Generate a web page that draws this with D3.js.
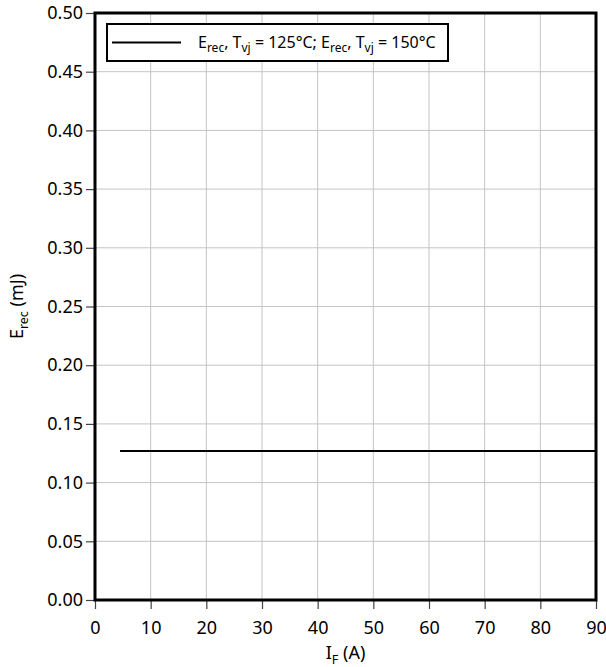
<!DOCTYPE html>
<html>
<head>
<meta charset="utf-8">
<script src="https://cdn.jsdelivr.net/npm/d3@7"></script>
<style>
  body { margin: 0; background: #fff; }
  text { font-family: "Noto Sans", sans-serif; }
</style>
</head>
<body>
<svg id="chart"></svg>
<script>
// curve data
const currentA = [4.5, 90];
const energyMJ = [0.127, 0.127];
const xTicks = [0, 10, 20, 30, 40, 50, 60, 70, 80, 90];
const yTicks = [0, 0.05, 0.1, 0.15, 0.2, 0.25, 0.3, 0.35, 0.4, 0.45, 0.5];

const width = 606, height = 667;
const margin = { top: 13, right: 10, bottom: 67, left: 95 };
const w = width - margin.left - margin.right;
const h = height - margin.top - margin.bottom;

const svg = d3.select("#chart").attr("width", width).attr("height", height);
const g = svg.append("g").attr("transform", `translate(${margin.left},${margin.top})`);

const x = d3.scaleLinear().domain([0, 90]).range([0, w]);
const y = d3.scaleLinear().domain([0, 0.5]).range([h, 0]);

// grid
g.append("g").selectAll("line").data(xTicks).join("line")
  .attr("x1", d => x(d)).attr("x2", d => x(d)).attr("y1", 0).attr("y2", h)
  .attr("stroke", "#c4c4c4").attr("stroke-width", 1);
g.append("g").selectAll("line").data(yTicks).join("line")
  .attr("y1", d => y(d)).attr("y2", d => y(d)).attr("x1", 0).attr("x2", w)
  .attr("stroke", "#c4c4c4").attr("stroke-width", 1);

// axes
const xAxis = g.append("g").attr("transform", `translate(0,${h})`)
  .call(d3.axisBottom(x).tickValues(xTicks).tickSize(9).tickPadding(12).tickFormat(d3.format("d")));
const yAxis = g.append("g")
  .call(d3.axisLeft(y).tickValues(yTicks).tickSize(9).tickPadding(3).tickFormat(d3.format(".2f")));
[xAxis, yAxis].forEach(a => {
  a.select(".domain").remove();
  a.selectAll(".tick line").attr("stroke", "#444").attr("stroke-width", 1.2);
  a.selectAll(".tick text").attr("fill", "#000").style("font-size", "18px");
});

// curve
const line = d3.line().x(d => x(d[0])).y(d => y(d[1]));
g.append("path")
  .datum(currentA.map((v, i) => [v, energyMJ[i]]))
  .attr("d", line).attr("fill", "none").attr("stroke", "#000").attr("stroke-width", 2);

// frame
g.append("rect").attr("width", w).attr("height", h)
  .attr("fill", "none").attr("stroke", "#000").attr("stroke-width", 3);

// legend
const lg = g.append("g").attr("transform", "translate(12,11)");
lg.append("rect").attr("width", 341).attr("height", 37)
  .attr("fill", "#fff").attr("stroke", "#000").attr("stroke-width", 2);
lg.append("line").attr("x1", 5).attr("x2", 74).attr("y1", 18.5).attr("y2", 18.5)
  .attr("stroke", "#000").attr("stroke-width", 2);
const lt = lg.append("text").attr("x", 91).attr("y", 24).style("font-size", "16px");
lt.append("tspan").text("E");
lt.append("tspan").attr("dy", 4).style("font-size", "12px").text("rec");
lt.append("tspan").attr("dy", -4).text(", T");
lt.append("tspan").attr("dy", 4).style("font-size", "12px").text("vj");
lt.append("tspan").attr("dy", -4).text(" = 125°C; E");
lt.append("tspan").attr("dy", 4).style("font-size", "12px").text("rec");
lt.append("tspan").attr("dy", -4).text(", T");
lt.append("tspan").attr("dy", 4).style("font-size", "12px").text("vj");
lt.append("tspan").attr("dy", -4).text(" = 150°C");

// x label
const xl = svg.append("text").attr("x", margin.left + w / 2).attr("y", 659)
  .attr("text-anchor", "middle").style("font-size", "18px");
xl.append("tspan").text("I");
xl.append("tspan").attr("dy", 5).style("font-size", "12.5px").text("F");
xl.append("tspan").attr("dy", -5).text(" (A)");

// y label
const yl = svg.append("text")
  .attr("transform", `translate(23,${margin.top + h / 2}) rotate(-90)`)
  .attr("text-anchor", "middle").style("font-size", "18px");
yl.append("tspan").text("E");
yl.append("tspan").attr("dy", 5).style("font-size", "12.5px").text("rec");
yl.append("tspan").attr("dy", -5).text(" (mJ)");
</script>
</body>
</html>
